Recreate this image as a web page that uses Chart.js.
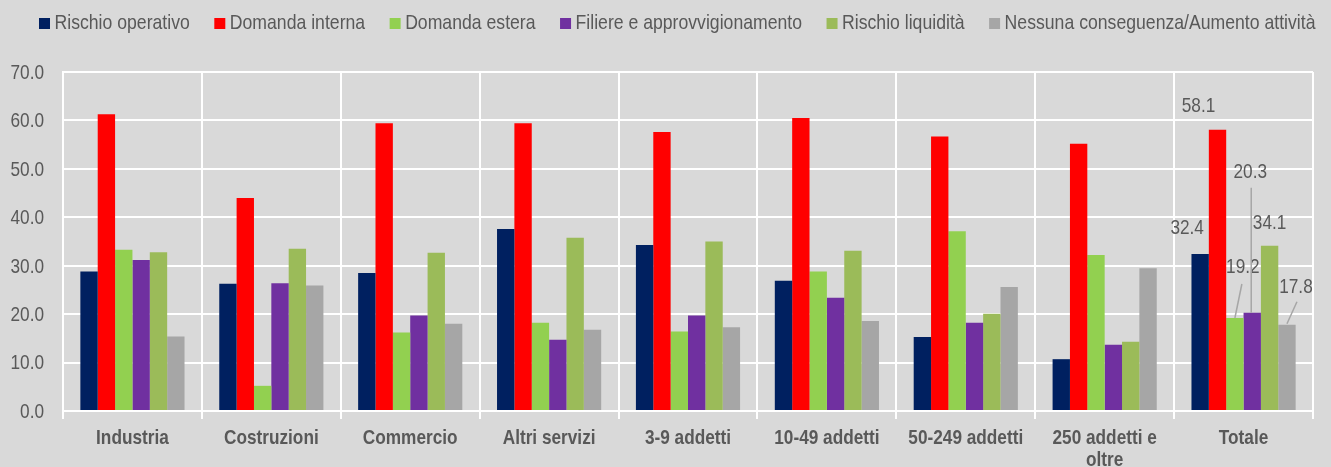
<!DOCTYPE html>
<html><head><meta charset="utf-8">
<script src="https://cdn.jsdelivr.net/npm/chart.js@4.4.1/dist/chart.umd.min.js"></script>
<style>html,body{margin:0;padding:0;background:#d9d9d9;overflow:hidden}</style>
</head><body>
<canvas id="c" width="1331" height="467"></canvas>
<script>
const categories = ['Industria','Costruzioni','Commercio','Altri servizi','3-9 addetti','10-49 addetti','50-249 addetti',['250 addetti e','oltre'],'Totale'];
const seriesNames = ['Rischio operativo','Domanda interna','Domanda estera','Filiere e approvvigionamento','Rischio liquidità','Nessuna conseguenza/Aumento attività'];
const rischioOperativo = [28.8,26.3,28.5,37.6,34.3,26.9,15.3,10.7,32.4];
const domandaInterna   = [61.3,44.0,59.4,59.4,57.6,60.5,56.7,55.2,58.1];
const domandaEstera    = [33.3,5.2,16.2,18.2,16.4,28.8,37.1,32.2,19.2];
const filiere          = [31.2,26.4,19.7,14.7,19.7,23.4,18.2,13.7,20.3];
const rischioLiquidita = [32.8,33.5,32.7,35.8,35.0,33.1,20.1,14.3,34.1];
const nessuna          = [15.4,25.9,18.0,16.8,17.3,18.6,25.6,29.5,17.8];
const yMin = 0, yMax = 70, yStep = 10;

const colors = ['#002060','#FF0000','#92D050','#7030A0','#9BBB59','#A6A6A6'];
const FF = "'Liberation Sans',Arial,sans-serif";
const SX = 0.82;           // horizontal compression to mimic a narrow face
const SX_LEGEND = 0.84;
const TXT = '#595959';
const labelledCategory = 8;
// label offsets (dx, dy from bar top centre) and optional leader line
const labelStyle = [
  {dx:-13, dy:-26},
  {dx:-19, dy:-23},
  {dx:8, dy:-51, leader:[0,0,7,-34]},
  {dx:-2, dy:-140, leader:[-1,0,-1,-125]},
  {dx:0, dy:-23},
  {dx:9, dy:-38, leader:[0,-1,10,-23]}
];

const seriesValues = [rischioOperativo,domandaInterna,domandaEstera,filiere,rischioLiquidita,nessuna];

function narrowText(ctx, txt, x, y, align, sx){
  ctx.save();
  ctx.translate(x, y);
  ctx.scale(sx || SX, 1);
  ctx.textAlign = align;
  ctx.fillText(txt, 0, 0);
  ctx.restore();
}

const bgPlugin = {
  id:'bg',
  beforeDraw(chart){
    const ctx = chart.ctx; ctx.save(); ctx.fillStyle='#d9d9d9';
    ctx.fillRect(0,0,chart.width,chart.height); ctx.restore();
  }
};
const legendPlugin = {
  id:'customLegend',
  afterDraw(chart){
    const ctx = chart.ctx; ctx.save();
    ctx.font = `21px ${FF}`; ctx.textBaseline='middle';
    let x = 39; const yc = 23.5;
    chart.data.datasets.forEach(ds=>{
      ctx.fillStyle = ds.backgroundColor;
      ctx.fillRect(x, yc-5.5, 11, 11);
      ctx.fillStyle = TXT;
      narrowText(ctx, ds.label, x+15.5, yc, 'left', SX_LEGEND);
      x += 15.5 + ctx.measureText(ds.label).width*SX_LEGEND + 24.5;
    });
    ctx.restore();
  }
};
const tickPlugin = {
  id:'tickText',
  afterDraw(chart){
    const ctx = chart.ctx; ctx.save();
    ctx.fillStyle = TXT; ctx.textBaseline='middle';
    const ys = chart.scales.y, xs = chart.scales.x;
    ctx.font = `21px ${FF}`;
    ys.ticks.forEach(t=>{
      narrowText(ctx, t.value.toFixed(1), ys.right-19, ys.getPixelForValue(t.value)+1, 'right');
    });
    ctx.font = `bold 21px ${FF}`;
    chart.data.labels.forEach((lab,i)=>{
      const lines = Array.isArray(lab) ? lab : [lab];
      const px = xs.getPixelForTick(i);
      lines.forEach((ln,k)=> narrowText(ctx, ln, px, xs.top + 27.5 + k*22, 'center'));
    });
    ctx.restore();
  }
};
const labelPlugin = {
  id:'totLabels',
  afterDatasetsDraw(chart){
    const ctx = chart.ctx; ctx.save();
    ctx.font = `21px ${FF}`; ctx.textBaseline='middle';
    chart.data.datasets.forEach((ds,i)=>{
      const el = chart.getDatasetMeta(i).data[labelledCategory];
      const st = labelStyle[i];
      if (st.leader){
        ctx.strokeStyle='#A6A6A6'; ctx.lineWidth=1.5;
        ctx.beginPath();
        ctx.moveTo(el.x+st.leader[0], el.y+st.leader[1]);
        ctx.lineTo(el.x+st.leader[2], el.y+st.leader[3]);
        ctx.stroke();
      }
      ctx.fillStyle = TXT;
      narrowText(ctx, ds.data[labelledCategory].toFixed(1), el.x+st.dx, el.y+st.dy, 'center');
    });
    ctx.restore();
  }
};

new Chart(document.getElementById('c'), {
  type:'bar',
  data:{
    labels: categories,
    datasets: seriesNames.map((n,i)=>({
      label:n, data:seriesValues[i], backgroundColor:colors[i], borderWidth:0,
      barPercentage:1, categoryPercentage:0.75
    }))
  },
  options:{
    responsive:false, animation:false, devicePixelRatio:1,
    layout:{padding:{top:72,right:18,bottom:0,left:0}},
    plugins:{legend:{display:false}, tooltip:{enabled:false}},
    scales:{
      x:{
        grid:{color:'#ffffff', lineWidth:2, offset:true, tickLength:8, drawTicks:true},
        border:{color:'#ffffff', width:2},
        ticks:{display:false, autoSkip:false},
        afterFit(s){ s.height = 56; }
      },
      y:{
        min:yMin, max:yMax,
        grid:{color:'#ffffff', lineWidth:2, drawTicks:false},
        border:{color:'#ffffff', width:2},
        ticks:{stepSize:yStep, display:false},
        afterFit(s){ s.width = 63; }
      }
    }
  },
  plugins:[bgPlugin, legendPlugin, tickPlugin, labelPlugin]
});
</script>
</body></html>
